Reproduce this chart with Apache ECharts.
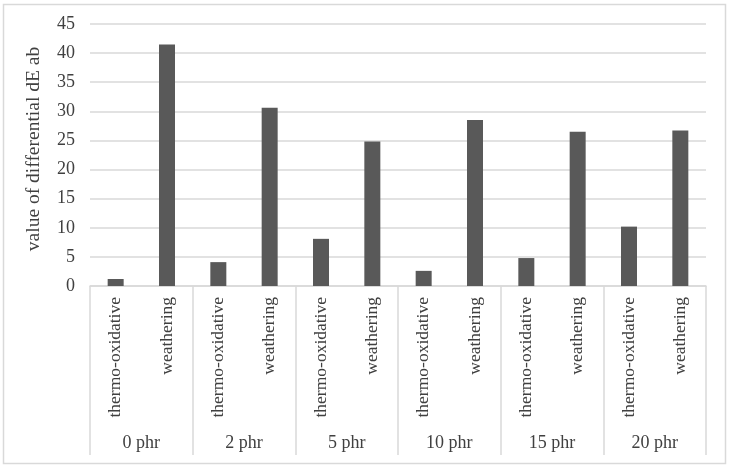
<!DOCTYPE html>
<html>
<head>
    <meta charset="utf-8">
    <title>dE ab</title>
    <script src="https://cdn.jsdelivr.net/npm/echarts@6/dist/echarts.min.js"></script>
    <style>
        html, body { margin: 0; padding: 0; background: #fff; }
        #chart1 { width: 730px; height: 469px; }
    </style>
</head>
<body>
<div id="chart1"></div>
<script type="text/javascript">
    // 数据
    var groups = ['0 phr', '2 phr', '5 phr', '10 phr', '15 phr', '20 phr'];
    var tests = ['thermo-oxidative', 'weathering'];
    var thermo = [1.2, 4.1, 8.1, 2.6, 4.8, 10.2];
    var weathering = [41.5, 30.6, 24.8, 28.5, 26.5, 26.7];
    var yTicks = { min: 0, max: 45, step: 5 };

    // 12 bars: each group has thermo then weathering
    var cats = [];
    var values = [];
    for (var i = 0; i < groups.length; i++) {
        cats.push(tests[0], tests[1]);
        values.push(thermo[i], weathering[i]);
    }

    var font = 'Liberation Serif';
    var myChart1 = echarts.init(document.getElementById('chart1'));
    myChart1.setOption({
        animation: false,
        textStyle: { fontFamily: font },
        graphic: [{
            type: 'rect',
            shape: { x: 3.5, y: 4.5, width: 722, height: 459 },
            style: { fill: null, stroke: '#d9d9d9', lineWidth: 1.5 }
        }],
        grid: { left: 90, right: 24, top: 24, bottom: 183 },
        xAxis: [{
            type: 'category',
            data: cats,
            axisLine: { lineStyle: { color: '#d9d9d9', width: 1.5 } },
            axisTick: { show: false },
            axisLabel: {
                interval: 0, rotate: 90, margin: 11,
                fontFamily: font, fontSize: 17.5, color: '#404040'
            }
        }, {
            type: 'category',
            data: groups,
            position: 'bottom',
            axisLine: { show: false },
            axisTick: { show: true, length: 169, interval: 0, lineStyle: { color: '#d9d9d9', width: 1.5 } },
            axisLabel: {
                interval: 0, margin: 148,
                fontFamily: font, fontSize: 18, color: '#404040'
            }
        }],
        yAxis: {
            type: 'value',
            min: yTicks.min, max: yTicks.max, interval: yTicks.step,
            name: 'value of differential dE ab',
            nameLocation: 'middle',
            nameGap: 46,
            nameTextStyle: { fontFamily: font, fontSize: 19.5, color: '#404040', padding: [0, 0, 0, 12] },
            axisLine: { show: false },
            axisTick: { show: false },
            splitLine: { lineStyle: { color: '#d9d9d9', width: 1.5 } },
            axisLabel: { margin: 15, fontFamily: font, fontSize: 18, color: '#404040' }
        },
        series: [{
            type: 'bar',
            data: values,
            barWidth: 16,
            itemStyle: { color: '#595959' }
        }]
    });
</script>
</body>
</html>
